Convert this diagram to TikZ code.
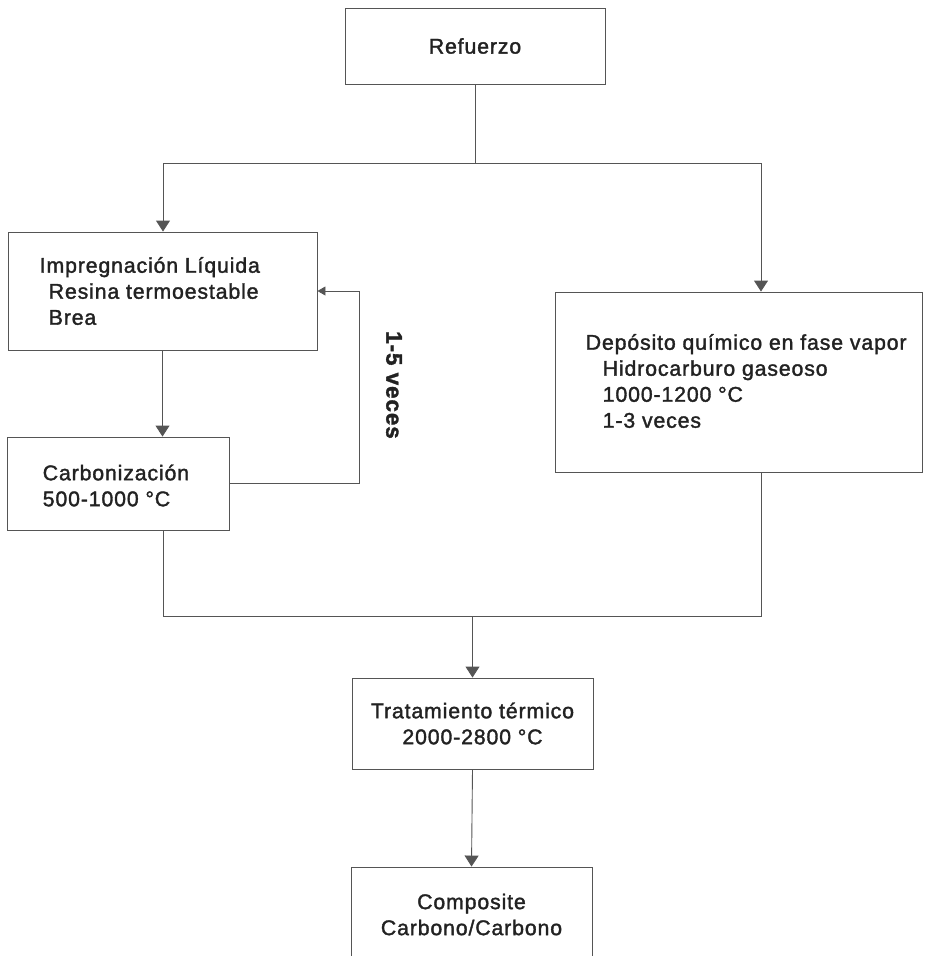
\documentclass[tikz,border=0pt]{standalone}
\usepackage{fontspec}
\setmainfont{Liberation Sans}[LetterSpace=4, FakeBold=1.6]
\usepackage{tikz}
\usetikzlibrary{arrows.meta, positioning, calc}
\definecolor{lineGray}{HTML}{555555}
\definecolor{textDark}{HTML}{222222}

\begin{document}
\begin{tikzpicture}[
    x=1pt, y=-1pt,
    every node/.style={font=\fontsize{21.3}{26}\selectfont, text=textDark},
    box/.style={rectangle, draw=lineGray, line width=0.9pt, inner sep=0pt},
    label/.style={inner sep=0pt, align=left, anchor=west},
    link/.style={draw=lineGray, line width=0.9pt},
    arr/.style={link, -{Triangle[width=14pt, length=11pt]}},
    backarr/.style={link, -{Triangle[width=9pt, length=8pt]}},
  ]
    \useasboundingbox (0,0) rectangle (925,956);
    \clip (0,0) rectangle (925,956);

    % Boxes
    \node[box, minimum width=260pt, minimum height=76pt, align=center] (ref) at (475,46) {Refuerzo};
    \node[box, minimum width=309pt, minimum height=118pt] (impreg) at (162.5,291) {};
    \node[box, minimum width=222pt, minimum height=93pt] (carbo) at (118,483.5) {};
    \node[box, minimum width=367pt, minimum height=180pt] (depo) at (738.5,382) {};
    \node[box, minimum width=241pt, minimum height=91pt, align=center] (trat) at (472.5,723.5)
      {Tratamiento térmico\\ 2000-2800 °C};
    \node[box, minimum width=241pt, minimum height=95pt, align=center] (comp) at (471.5,914.5)
      {Composite\\ Carbono/Carbono};

    % Texts of the left-aligned boxes
    \node[label] (impregTxt) at ($(impreg.west)+(32,0)$)
      {Impregnación Líquida\\ \hspace*{9pt}Resina termoestable\\ \hspace*{9pt}Brea};
    \node[label] (carboTxt) at ($(carbo.west)+(36,2)$)
      {Carbonización\\ 500-1000 °C};
    \node[label] (depoTxt) at ($(depo.west)+(31,-1)$)
      {Depósito químico en fase vapor\\ \hspace*{17pt}Hidrocarburo gaseoso\\
       \hspace*{17pt}1000-1200 °C\\ \hspace*{17pt}1-3 veces};

    % Label of the loop
    \node[rotate=-90, font=\fontsize{22.5}{26}\selectfont\bfseries] (times) at (394,385) {1-5 veces};

    % Split after the reinforcement
    \coordinate (splitL) at (163,163);
    \coordinate (splitR) at (761,163);
    \draw[link] (ref.south) -- (ref.south |- splitL);
    \draw[link] (splitL) -- (splitR);
    \draw[arr] (splitL) -- (splitL |- impreg.north);
    \draw[arr] (splitR) -- (splitR |- depo.north);

    % Liquid route with its loop
    \coordinate (loopx) at (359,0);
    \draw[arr] (impreg.south) -- (impreg.south |- carbo.north);
    \draw[backarr] (carbo.east) -- (carbo.east -| loopx) |- (impreg.east);

    % Both routes join
    \coordinate (mergeL) at (163,616);
    \coordinate (mergeR) at (761,616);
    \coordinate (merge) at (472.5,616);
    \draw[link] (mergeL |- carbo.south) -- (mergeL) -- (mergeR) -- (mergeR |- depo.south);
    \draw[arr] (merge) -- (trat.north);
    \draw[arr] (trat.south) -- (comp.north);
\end{tikzpicture}
\end{document}
